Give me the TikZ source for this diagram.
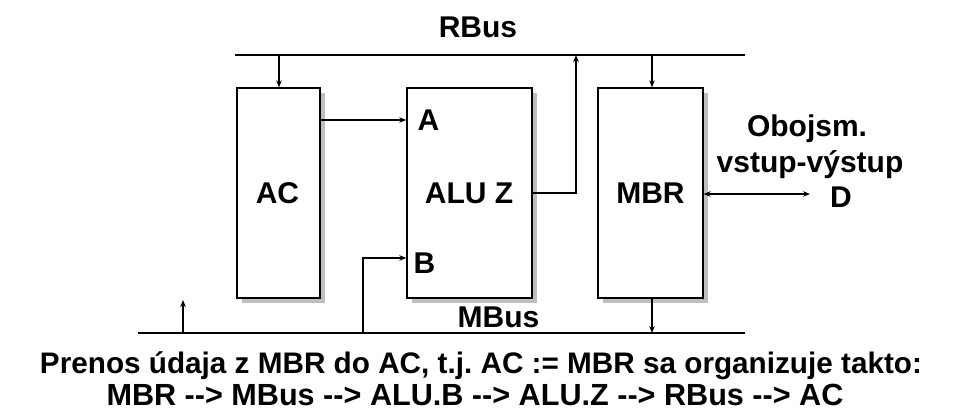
\documentclass[tikz,border=0pt]{standalone}
\usepackage{fontspec}
\setmainfont{Liberation Sans}
\usetikzlibrary{arrows.meta}
\frenchspacing
\begin{document}
\begin{tikzpicture}[x=1pt,y=-1pt,
  line width=1.3pt,
  arr/.style={-{Stealth[length=7pt,width=5.5pt]}},
  box/.style={draw,fill=white,minimum height=210pt,inner sep=0pt},
  lbl/.style={font=\bfseries\fontsize{30}{34}\selectfont,inner sep=0pt,anchor=base}]
\useasboundingbox (0,0) rectangle (956,416);
% shadows
\fill[black!25] (242,93) rectangle (325,303);
\fill[black!25] (412,93) rectangle (537,303);
\fill[black!25] (603,93) rectangle (708,303);
% boxes
\node[box,minimum width=83pt] (ac) at (278.5,193) {};
\node[box,minimum width=125pt] (alu) at (469.5,193) {};
\node[box,minimum width=105pt] (mbr) at (650.5,193) {};
\node[lbl] (acl) at (277.5,203) {AC};
\node[lbl] (alul) at (469,203) {ALU Z};
\node[lbl] (mbrl) at (650.5,203) {MBR};
\node[lbl,anchor=base west] (la) at (417,130) {A};
\node[lbl,anchor=base west] (lb) at (413,273) {B};
% buses
\coordinate (r1) at (235,55);
\coordinate (r2) at (745,55);
\coordinate (m1) at (138,333);
\coordinate (m2) at (745,333);
\draw (r1) -- (r2);
\draw (m1) -- (m2);
\node[lbl] (rbus) at (478,37) {RBus};
\node[lbl] (mbus) at (498.5,327) {MBus};
% connectors
\draw[arr] (279,55) -- (ac.north -| 279,0);
\draw[arr] (652,55) -- (mbr.north -| 652,0);
\draw[arr] (ac.east |- 0,120) -- (alu.west |- 0,120);
\draw[arr] (363,333) |- (alu.west |- 0,258);
\draw[arr] (alu.east |- 0,193) -| (576,55);
\draw[arr] (mbr.south -| 652,0) -- (652,333);
\draw[arr] (183,333) -- (183,300);
\coordinate (dend) at (810,194);
\draw[{Stealth[length=7pt,width=5.5pt]}-{Stealth[length=7pt,width=5.5pt]}] (mbr.east |- 0,194) -- (dend);
\node[lbl] (ob) at (807,136) {Obojsm.};
\node[lbl] (vv) at (810,172) {vstup-výstup};
\node[lbl] (dd) at (841,207) {D};
\node[lbl,font=\bfseries\fontsize{29.7}{34}\selectfont] (t1) at (481,373) {Prenos údaja z MBR do AC, t.j. AC := MBR sa organizuje takto:};
\node[lbl,font=\bfseries\fontsize{30.6}{34}\selectfont] (t2) at (475,405) {MBR -{}-{}> MBus -{}-{}> ALU.B -{}-{}> ALU.Z -{}-{}> RBus -{}-{}> AC};
\end{tikzpicture}
\end{document}
